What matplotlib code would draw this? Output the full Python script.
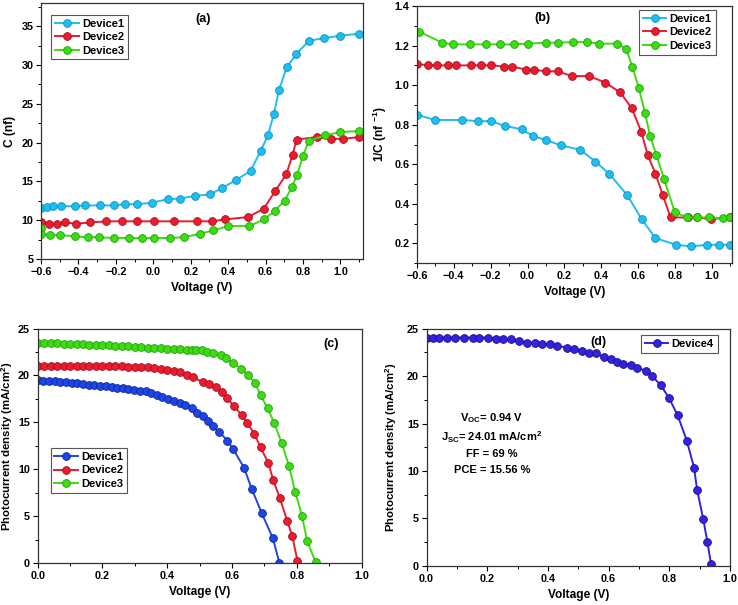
# coding=utf-8
# C-V and J-V curves, four panels (a)-(d)

import matplotlib
matplotlib.use('Agg')
import matplotlib.pyplot as plt
from matplotlib.ticker import MultipleLocator

plt.rcParams['font.family'] = ['Liberation Sans', 'DejaVu Sans']
plt.rcParams['font.weight'] = 'bold'
plt.rcParams['axes.labelweight'] = 'bold'
plt.rcParams['mathtext.fontset'] = 'custom'
plt.rcParams['mathtext.rm'] = 'Liberation Sans:bold'
plt.rcParams['mathtext.bf'] = 'Liberation Sans:bold'
plt.rcParams['mathtext.default'] = 'bf'

# ---------- data ----------
# (a) capacitance vs voltage
a_v1 = [-0.600, -0.570, -0.535, -0.495, -0.420, -0.364, -0.287, -0.212, -0.150, -0.088,
        -0.008, 0.077, 0.143, 0.223, 0.303, 0.367, 0.442, 0.520, 0.574, 0.613,
        0.645, 0.672, 0.713, 0.764, 0.832, 0.912, 0.997, 1.100]
a_c1 = [11.55, 11.65, 11.80, 11.80, 11.80, 11.90, 11.90, 11.90, 12.05, 12.05,
        12.25, 12.70, 12.79, 13.13, 13.31, 14.13, 15.17, 16.34, 18.94, 20.93,
        23.74, 26.77, 29.71, 31.40, 33.13, 33.48, 33.78, 34.04]
a_v2 = [-0.600, -0.559, -0.515, -0.474, -0.413, -0.337, -0.251, -0.166, -0.088, 0.006,
        0.111, 0.236, 0.316, 0.383, 0.508, 0.591, 0.652, 0.711, 0.745, 0.766,
        0.873, 0.948, 1.015, 1.100]
a_c2 = [9.80, 9.55, 9.55, 9.70, 9.55, 9.70, 9.85, 9.85, 9.85, 9.85,
        9.85, 9.85, 9.85, 10.10, 10.40, 11.49, 13.78, 15.91, 18.46, 20.40,
        20.71, 20.49, 20.49, 20.71]
a_v3 = [-0.600, -0.600, -0.554, -0.497, -0.420, -0.350, -0.290, -0.210, -0.130, -0.060,
        0.006, 0.090, 0.165, 0.250, 0.321, 0.401, 0.512, 0.593, 0.651, 0.702,
        0.742, 0.769, 0.801, 0.832, 0.919, 0.997, 1.100]
a_c3 = [9.00, 8.25, 8.10, 8.10, 7.90, 7.80, 7.80, 7.70, 7.70, 7.70,
        7.70, 7.70, 7.81, 8.25, 8.68, 9.24, 9.24, 10.10, 11.23, 12.53,
        14.30, 15.86, 18.33, 20.27, 20.92, 21.36, 21.49]

# (b) 1/C vs voltage
b_v1 = [-0.598, -0.502, -0.354, -0.267, -0.197, -0.123, -0.032, 0.027, 0.101, 0.180,
        0.286, 0.368, 0.444, 0.541, 0.619, 0.694, 0.805, 0.887, 0.976, 1.037, 1.100]
b_y1 = [0.850, 0.824, 0.824, 0.818, 0.818, 0.794, 0.777, 0.744, 0.722, 0.696,
        0.673, 0.614, 0.551, 0.444, 0.323, 0.227, 0.193, 0.185, 0.193, 0.193, 0.193]
b_v2 = [-0.600, -0.540, -0.489, -0.434, -0.389, -0.308, -0.250, -0.197, -0.126, -0.084,
        -0.006, 0.034, 0.100, 0.163, 0.240, 0.335, 0.422, 0.503, 0.566, 0.617,
        0.652, 0.694, 0.734, 0.776, 0.869, 0.918, 0.994, 1.100]
b_y2 = [1.108, 1.100, 1.100, 1.100, 1.100, 1.100, 1.100, 1.100, 1.094, 1.094,
        1.078, 1.078, 1.070, 1.070, 1.046, 1.046, 1.013, 0.963, 0.883, 0.764,
        0.647, 0.553, 0.444, 0.331, 0.331, 0.331, 0.323, 0.331]
b_v3 = [-0.587, -0.463, -0.407, -0.314, -0.223, -0.148, -0.075, 0.000, 0.101, 0.165,
        0.249, 0.322, 0.389, 0.486, 0.535, 0.568, 0.603, 0.638, 0.665, 0.699,
        0.741, 0.799, 0.867, 0.918, 0.987, 1.060, 1.100]
b_y3 = [1.270, 1.215, 1.206, 1.206, 1.206, 1.206, 1.206, 1.210, 1.215, 1.215,
        1.218, 1.218, 1.210, 1.210, 1.185, 1.094, 0.988, 0.858, 0.743, 0.647,
        0.525, 0.357, 0.331, 0.331, 0.331, 0.326, 0.331]

# (c) J-V of devices 1-3
c_v1 = [0.000, 0.018, 0.035, 0.053, 0.070, 0.088, 0.105, 0.123, 0.140, 0.158,
        0.175, 0.193, 0.210, 0.228, 0.245, 0.263, 0.280, 0.298, 0.315, 0.333,
        0.350, 0.368, 0.385, 0.403, 0.420, 0.438, 0.455, 0.475, 0.493, 0.511,
        0.527, 0.540, 0.560, 0.586, 0.604, 0.637, 0.661, 0.692, 0.726, 0.746]
c_j1 = [19.50, 19.45, 19.45, 19.42, 19.35, 19.30, 19.22, 19.15, 19.08, 19.02,
        18.97, 18.90, 18.85, 18.78, 18.70, 18.62, 18.55, 18.45, 18.38, 18.30,
        18.12, 17.92, 17.75, 17.52, 17.30, 17.05, 16.85, 16.50, 16.02, 15.67,
        15.17, 14.61, 14.00, 13.05, 12.13, 10.17, 7.90, 5.32, 2.66, 0.06]
c_v2 = [0.000, 0.020, 0.040, 0.060, 0.080, 0.100, 0.120, 0.140, 0.160, 0.180,
        0.200, 0.220, 0.240, 0.260, 0.280, 0.300, 0.320, 0.340, 0.360, 0.380,
        0.400, 0.420, 0.440, 0.460, 0.480, 0.509, 0.530, 0.549, 0.568, 0.586,
        0.606, 0.630, 0.647, 0.669, 0.688, 0.712, 0.727, 0.748, 0.770, 0.786, 0.802]
c_j2 = [21.05, 21.05, 21.05, 21.05, 21.05, 21.05, 21.05, 21.00, 21.00, 21.00,
        21.00, 21.00, 20.98, 20.98, 20.95, 20.92, 20.90, 20.85, 20.80, 20.72,
        20.62, 20.50, 20.35, 20.10, 19.79, 19.32, 19.07, 18.79, 18.26, 17.55,
        16.73, 15.78, 14.96, 13.76, 12.34, 10.70, 8.86, 6.91, 4.53, 2.90, 0.24]
c_v3 = [0.000, 0.020, 0.040, 0.060, 0.080, 0.100, 0.120, 0.140, 0.160, 0.180,
        0.200, 0.220, 0.240, 0.260, 0.280, 0.300, 0.320, 0.340, 0.360, 0.380,
        0.400, 0.420, 0.440, 0.460, 0.475, 0.489, 0.506, 0.523, 0.542, 0.565,
        0.581, 0.602, 0.627, 0.650, 0.672, 0.688, 0.710, 0.730, 0.753, 0.776,
        0.795, 0.816, 0.832, 0.858]
c_j3 = [23.50, 23.45, 23.45, 23.42, 23.38, 23.35, 23.32, 23.30, 23.28, 23.25,
        23.22, 23.20, 23.18, 23.15, 23.10, 23.05, 23.00, 22.97, 22.93, 22.90,
        22.87, 22.84, 22.80, 22.75, 22.70, 22.72, 22.70, 22.51, 22.34, 22.16,
        21.91, 21.34, 20.74, 20.03, 19.15, 17.90, 16.49, 14.96, 12.83, 10.35,
        7.62, 5.03, 2.37, 0.11]

# (d) J-V of device 4
d_v = [0.000, 0.020, 0.042, 0.066, 0.093, 0.123, 0.152, 0.173, 0.203, 0.228,
       0.253, 0.277, 0.305, 0.330, 0.357, 0.381, 0.407, 0.431, 0.462, 0.486,
       0.511, 0.536, 0.558, 0.585, 0.608, 0.628, 0.648, 0.674, 0.694, 0.725,
       0.744, 0.772, 0.799, 0.828, 0.858, 0.882, 0.892, 0.912, 0.926, 0.938]
d_j = [24.05, 24.05, 24.05, 24.05, 24.05, 24.05, 24.05, 24.05, 24.05, 23.87,
       23.87, 23.87, 23.66, 23.52, 23.49, 23.35, 23.35, 23.17, 23.00, 22.82,
       22.64, 22.37, 22.37, 22.01, 21.84, 21.49, 21.31, 21.21, 20.86, 20.54,
       19.98, 19.04, 17.70, 15.85, 13.18, 10.34, 7.99, 4.98, 2.49, 0.18]

names = ['Device1', 'Device2', 'Device3']
d_name = 'Device4'
d_params = ['V$_{OC}$= 0.94 V', 'J$_{SC}$= 24.01 mA/cm$^{2}$', 'FF = 69 %', 'PCE = 15.56 %']

# colours
cyan = '#1fbdf0'
red = '#ec1c2e'
green = '#3ddc10'
blue1 = '#1e46e6'
blue4 = '#3322e0'


def curve(ax, x, y, color, label, edge):
    ax.plot(x, y, '-o', color=color, lw=1.4, ms=5.6, mfc=color,
            mec=edge, mew=0.6, label=label)


def style(ax, xmaj, ymaj):
    '''ticks outside, minor ticks at half steps'''
    ax.xaxis.set_major_locator(MultipleLocator(xmaj))
    ax.xaxis.set_minor_locator(MultipleLocator(xmaj / 2))
    ax.yaxis.set_major_locator(MultipleLocator(ymaj))
    ax.yaxis.set_minor_locator(MultipleLocator(ymaj / 2))
    ax.tick_params(which='major', direction='out', length=3.5, width=0.8, labelsize=7.8, pad=2)
    ax.tick_params(which='minor', direction='out', length=2, width=0.7)
    for s in ax.spines.values():
        s.set_color('#333333')
        s.set_linewidth(0.9)
    for lab in ax.get_xticklabels() + ax.get_yticklabels():
        lab.set_fontweight('bold')


def legend(ax, **kw):
    lg = ax.legend(fontsize=8, fancybox=False, framealpha=1, edgecolor='#555555',
                   handlelength=2.1, handletextpad=0.3, borderpad=0.35,
                   labelspacing=0.3, borderaxespad=0, **kw)
    lg.get_frame().set_linewidth(0.8)
    return lg


fig = plt.figure(figsize=(7.38, 6.05), dpi=100)

# ---------- (a) ----------
ax = fig.add_axes([0.0556, 0.572, 0.436, 0.423])
curve(ax, a_v1, a_c1, cyan, names[0], '#1090c0')
curve(ax, a_v2, a_c2, red, names[1], '#a01020')
curve(ax, a_v3, a_c3, green, names[2], '#20a010')
ax.set_xlim(-0.6, 1.12)
ax.set_ylim(5, 38)
style(ax, 0.2, 5)
ax.set_xlabel('Voltage (V)', fontsize=8.6, labelpad=4)
ax.set_ylabel('C (nf)', fontsize=8.6, labelpad=4)
ax.text(0.266, 35.9, '(a)', fontsize=9, fontweight='bold', ha='center', va='center')
legend(ax, loc='upper left', bbox_to_anchor=(0.032, 0.953))

# ---------- (b) ----------
ax = fig.add_axes([0.565, 0.565, 0.427, 0.425])
curve(ax, b_v1, b_y1, cyan, names[0], '#1090c0')
curve(ax, b_v2, b_y2, red, names[1], '#a01020')
curve(ax, b_v3, b_y3, green, names[2], '#20a010')
ax.set_xlim(-0.6, 1.11)
ax.set_ylim(0.1, 1.4)
style(ax, 0.2, 0.2)
ax.set_xlabel('Voltage (V)', fontsize=8.6, labelpad=4)
ax.set_ylabel('1/C (nf $^{-1}$)', fontsize=8.6, labelpad=4)
ax.text(0.083, 1.341, '(b)', fontsize=9, fontweight='bold', ha='center', va='center')
legend(ax, loc='upper right', bbox_to_anchor=(0.948, 0.984))

# ---------- (c) ----------
ax = fig.add_axes([0.051, 0.069, 0.439, 0.388])
curve(ax, c_v1, c_j1, blue1, names[0], '#10259a')
curve(ax, c_v2, c_j2, red, names[1], '#a01020')
curve(ax, c_v3, c_j3, green, names[2], '#20a010')
ax.set_xlim(0, 1.0)
ax.set_ylim(0, 25)
style(ax, 0.2, 5)
ax.set_xlabel('Voltage (V)', fontsize=8.6, labelpad=4)
ax.set_ylabel('Photocurrent density (mA/cm$^{2}$)', fontsize=8.2, labelpad=2)
ax.text(0.907, 23.4, '(c)', fontsize=9, fontweight='bold', ha='center', va='center')
legend(ax, loc='upper left', bbox_to_anchor=(0.04, 0.49))

# ---------- (d) ----------
ax = fig.add_axes([0.578, 0.0645, 0.411, 0.3925])
curve(ax, d_v, d_j, blue4, d_name, '#1a108a')
ax.set_xlim(0, 1.0)
ax.set_ylim(0, 25)
style(ax, 0.2, 5)
ax.set_xlabel('Voltage (V)', fontsize=8.6, labelpad=4)
ax.set_ylabel('Photocurrent density (mA/cm$^{2}$)', fontsize=8.2, labelpad=6)
ax.text(0.566, 23.6, '(d)', fontsize=9, fontweight='bold', ha='center', va='center')
for t, yy in zip(d_params, [15.6, 13.6, 11.8, 10.1]):
    ax.text(0.215, yy, t, fontsize=8, fontweight='bold', ha='center', va='center')
legend(ax, loc='upper right', bbox_to_anchor=(0.96, 0.972))

fig.savefig('out.png', dpi=100)
